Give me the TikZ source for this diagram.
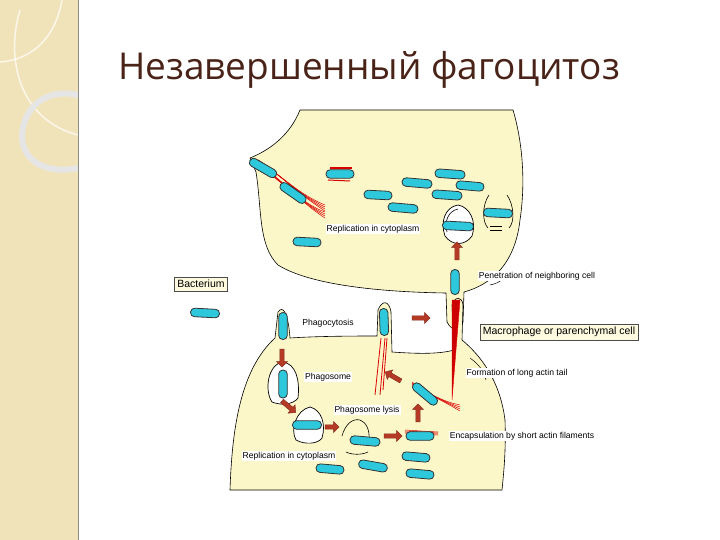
\documentclass[tikz,border=0pt]{standalone}
\usepackage{fontspec}
\setmainfont{Liberation Sans}
\newfontfamily\titlefont{Open Sans}
\usetikzlibrary{shapes.arrows}
\definecolor{cream}{HTML}{FCF7C9}
\definecolor{bcyan}{HTML}{2EC8DC}
\definecolor{arr}{HTML}{B53A26}
\definecolor{strip}{HTML}{F1E3B9}
\definecolor{ttl}{HTML}{4A2318}
\tikzset{
 bac/.style={draw=black!80,fill=bcyan,rounded corners=4pt,minimum width=#1,minimum height=8.5pt,inner sep=0pt,line width=0.8pt},
 bac/.default=32pt,
 blk/.style={single arrow,draw=arr!70!black,fill=arr,minimum width=11pt,single arrow head extend=2.5pt,minimum height=18pt,inner sep=1.5pt},
 lab/.style={font=\fontsize{8.6}{9}\selectfont,inner sep=1pt,fill=white},
 boxlab/.style={draw=black!70,fill=cream!60,font=\fontsize{10.5}{11}\selectfont,inner sep=3pt},
 cell/.style={draw=black,fill=cream,line width=0.6pt},
 actin/.style={draw=red!85!black,line width=0.5pt},
 vac/.style={draw=black,fill=white,line width=0.7pt}
}
\begin{document}
\begin{tikzpicture}[x=1pt,y=-1pt]
\useasboundingbox (0,0) rectangle (720,540);
\fill[white] (0,0) rectangle (720,540);
% left strip
\fill[strip] (0,0) rectangle (78,540);
\draw[white,line width=1.5pt,opacity=0.7] (62,0) .. controls (55,40) and (30,60) .. (0,62);
\draw[white,line width=1.5pt,opacity=0.7] (20,10) .. controls (5,60) and (20,120) .. (78,135);
\draw[black!10,line width=6pt] (78,95) .. controls (30,85) and (15,130) .. (25,150) .. controls (35,170) and (60,172) .. (78,168);
\draw[black!45,line width=1pt] (78,0) -- (78,540);
\node[anchor=west,text=ttl,font=\titlefont\fontsize{37}{40}\selectfont,inner sep=0pt] (title) at (118,70) {Незавершенный фагоцитоз};
% cells
\draw[cell] (300,110) .. controls (290,135) and (270,150) .. (250,158) -- (256,172) .. controls (262,210) and (258,245) .. (278,265)
 .. controls (310,285) and (380,292) .. (446,293) -- (447,322) .. controls (452,332) and (461,332) .. (463,322) -- (464,292)
 .. controls (490,285) and (515,265) .. (520,220) .. controls (526,180) and (522,140) .. (513,110) -- cycle;
\draw[cell] (230,490) .. controls (232,430) and (240,370) .. (275,338) -- (278,312) .. controls (283,305) and (288,312) .. (290,338)
 .. controls (320,336) and (360,336) .. (377,336) -- (378,310) .. controls (382,300) and (389,300) .. (391,312) -- (392,352)
 .. controls (420,354) and (440,354) .. (454,350) -- (452,305) .. controls (455,296) and (462,296) .. (463,305) -- (462,340)
 .. controls (480,355) and (500,380) .. (505,420) .. controls (506,450) and (504,470) .. (502,490) -- cycle;
\draw[black,line width=0.5pt] (490,285) .. controls (500,283) and (505,278) .. (509,272);
\draw[black,line width=0.5pt] (470,358) .. controls (480,365) and (484,372) .. (486,380);
% vacuoles
\draw[vac] (458,205) .. controls (445,207) and (440,222) .. (445,236) .. controls (452,246) and (465,246) .. (472,236) .. controls (477,222) and (470,207) .. (458,205);
\draw[black,line width=0.6pt] (458,209) .. controls (448,211) and (444,222) .. (447,232);
\draw[black,line width=0.6pt] (489,195) .. controls (482,205) and (482,222) .. (488,228);
\draw[black,line width=0.6pt] (507,195) .. controls (514,205) and (515,222) .. (509,228);
\draw[black,line width=0.6pt] (490,226) -- (502,226) (490,230) -- (502,230);
\draw[vac] (283,362) .. controls (268,364) and (264,390) .. (272,402) .. controls (282,406) and (294,404) .. (298,398) .. controls (300,380) and (296,364) .. (283,362);
\draw[vac] (310,407) .. controls (296,410) and (290,430) .. (296,440) .. controls (305,445) and (318,444) .. (322,438) .. controls (326,425) and (322,410) .. (310,407);
\draw[black,line width=0.6pt] (342,436) .. controls (345,425) and (352,418) .. (360,420) .. controls (366,422) and (370,430) .. (369,440);
\draw[black,line width=0.6pt] (346,452) .. controls (352,455) and (362,455) .. (368,452);
% actin
\draw[red!90!black,fill=red!80!black] (452,300) -- (460,300) -- (452,400) -- cycle;
\draw[actin,line width=0.8pt] (381,338) -- (375,395) (385,338) -- (380,395) (387,338) -- (383,390);
\foreach \d in {0,2,4,6}{
 \draw[actin] (258,160) .. controls (280,175) and (300,195) .. (325,205+\d);
 \draw[actin] (266,168+\d/2) .. controls (285,185) and (305,205) .. (325,212+\d);
 \draw[actin] (412,382+\d/2) .. controls (430,395) and (445,402) .. (460,405+\d);
 \draw[actin] (405,430+\d/2) -- (438,432+\d/2);}
\draw[red!85!black,line width=2pt] (330,168) -- (352,168);
\draw[red!85!black,line width=1pt] (328,180) -- (350,181);
% bacteria
\node[bac=30pt,rotate=-30] (b1) at (263,168) {};
\node[bac=30pt,rotate=-35] (b2) at (293,193) {};
\node[bac=28pt] (b3) at (340,174) {};
\node[bac=30pt,rotate=-5] (b4) at (417,183) {};
\node[bac=30pt,rotate=-4] (b5) at (450,174) {};
\node[bac=28pt,rotate=-5] (b6) at (470,186) {};
\node[bac=28pt,rotate=-3] (b7) at (378,195) {};
\node[bac=30pt,rotate=-4] (b8) at (447,195) {};
\node[bac=30pt,rotate=-5] (b9) at (403,208) {};
\node[bac=28pt,rotate=-3] (b10) at (307,242) {};
\node[bac=31pt,rotate=-3] (b11) at (458,226) {};
\node[bac=29pt,rotate=-3] (b12) at (498,213) {};
\node[bac=25pt,rotate=90] (b13) at (455,282) {};
\node[bac=29pt,rotate=-3] (b14) at (205,313) {};
\node[bac=27pt,rotate=90] (b15) at (283,326) {};
\node[bac=27pt,rotate=92] (b16) at (384,322) {};
\node[bac=28pt,rotate=90] (b17) at (283,384) {};
\node[bac=29pt] (b18) at (307,425) {};
\node[bac=30pt,rotate=-5] (b19) at (365,441) {};
\node[bac=28pt] (b20) at (420,436) {};
\node[bac=30pt,rotate=-40] (b21) at (425,394) {};
\node[bac=28pt,rotate=-5] (b22) at (330,469) {};
\node[bac=29pt,rotate=-10] (b23) at (373,466) {};
\node[bac=28pt,rotate=-5] (b24) at (416,457) {};
\node[bac=28pt,rotate=-5] (b25) at (420,474) {};
% arrows
\node[blk,rotate=90] (a1) at (457,252) {};
\node[blk] (a2) at (420,318) {};
\node[blk,rotate=-90] (a3) at (282,357) {};
\node[blk,rotate=-40] (a4) at (288,406) {};
\node[blk,minimum height=14pt] (a5) at (331,427) {};
\node[blk] (a6) at (392,436) {};
\node[blk,rotate=90] (a7) at (418,414) {};
\node[blk,rotate=150] (a8) at (394,377) {};
% labels
\node[lab] (l1) at (373,229) {Replication in cytoplasm};
\node[lab] (l2) at (537,276) {Penetration of neighboring cell};
\node[boxlab] (l3) at (201,284) {Bacterium};
\node[lab,fill=none] (l4) at (328,323) {Phagocytosis};
\node[boxlab] (l5) at (559,332) {Macrophage or parenchymal cell};
\node[lab] (l6) at (328,377) {Phagosome};
\node[lab] (l7) at (517,373) {Formation of long actin tail};
\node[lab] (l8) at (367,410) {Phagosome lysis};
\node[lab] (l9) at (522,436) {Encapsulation by short actin filaments};
\node[lab] (l10) at (289,456) {Replication in cytoplasm};
\end{tikzpicture}
\end{document}
